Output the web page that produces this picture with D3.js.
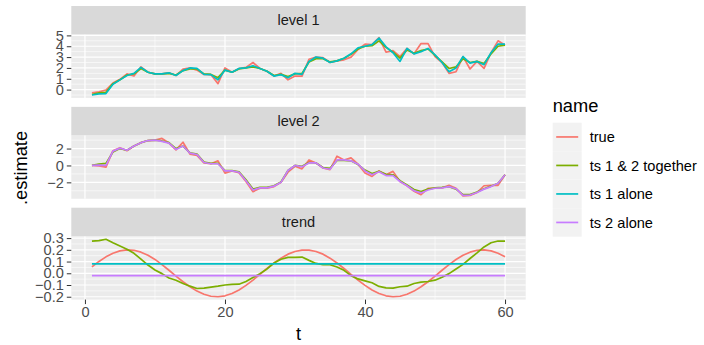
<!DOCTYPE html>
<html>
<head>
<meta charset="utf-8">
<script src="https://cdn.jsdelivr.net/npm/d3@7"></script>
<style>
  body { margin: 0; background: #fff; }
  text { font-family: "Liberation Sans", Arial, sans-serif; }
</style>
</head>
<body>
<div id="chart"></div>
<script>
// ---- data ----
var tValues = d3.range(1, 61);

var level1True = [-0.3, -0.2, -0.05, 0.6, 0.95, 1.45, 1.25, 2.1, 1.6, 1.45,
  1.45, 1.55, 1.3, 1.9, 2.0, 1.8, 1.4, 1.38, 0.55, 2.0,
  1.6, 1.95, 2.05, 2.5, 1.95, 1.7, 1.25, 1.5, 0.9, 1.25,
  1.25, 2.8, 3.0, 2.95, 2.5, 2.65, 2.75, 3.0, 3.7, 4.2,
  4.15, 4.8, 3.45, 3.6, 3.05, 3.8, 3.3, 4.25, 4.25, 3.05,
  2.5, 1.5, 1.65, 3.05, 1.9, 2.6, 1.95, 3.4, 4.5, 4.1];
var level1Together = [-0.45, -0.3, -0.25, 0.55, 0.9, 1.35, 1.45, 1.95, 1.6, 1.45,
  1.45, 1.5, 1.35, 1.75, 1.9, 1.9, 1.45, 1.4, 1.1, 1.8,
  1.6, 1.9, 2.0, 2.1, 1.95, 1.7, 1.3, 1.4, 1.2, 1.45,
  1.5, 2.55, 2.85, 2.85, 2.55, 2.65, 2.9, 3.25, 3.75, 4.0,
  4.05, 4.5, 3.9, 3.45, 2.9, 3.65, 3.35, 3.6, 3.75, 3.15,
  2.55, 1.95, 2.1, 2.85, 2.5, 2.6, 2.4, 3.3, 4.0, 4.1];
var level1Ts1 = [-0.5, -0.4, -0.37, 0.5, 0.9, 1.3, 1.5, 2.05, 1.6, 1.45,
  1.45, 1.55, 1.3, 1.75, 2.0, 1.95, 1.4, 1.38, 0.9, 1.8,
  1.6, 1.95, 2.0, 2.2, 1.95, 1.7, 1.25, 1.38, 1.1, 1.5,
  1.4, 2.6, 3.0, 2.9, 2.5, 2.65, 2.9, 3.3, 3.85, 4.0,
  4.15, 4.75, 3.95, 3.4, 2.6, 3.8, 3.3, 3.5, 3.8, 3.2,
  2.5, 1.65, 2.0, 3.05, 2.45, 2.6, 2.3, 3.4, 4.2, 4.2];

var level2True = [0, -0.05, -0.2, 1.75, 2.1, 1.75, 2.3, 2.7, 2.95, 3.0,
  3.2, 2.65, 1.85, 2.75, 1.35, 1.2, 0.3, 0.2, 0.55, -0.9,
  -0.65, -0.85, -1.9, -3.1, -2.7, -2.7, -2.5, -2.0, -0.8, -0.1,
  -0.4, 0.65, 0.3, -0.3, -0.5, 1.1, 0.65, 0.9, 0.15, -0.9,
  -1.3, -0.65, -1.1, -0.7, -1.9, -2.4, -3.05, -3.45, -2.7, -2.7,
  -2.65, -2.35, -2.7, -3.6, -3.55, -3.2, -2.4, -2.35, -2.35, -1.1];
var level2Together = [0, 0.15, 0.25, 1.6, 2.0, 1.8, 2.3, 2.7, 2.95, 3.0,
  2.9, 2.7, 2.0, 2.3, 1.5, 1.35, 0.4, 0.25, 0.25, -0.6,
  -0.6, -0.75, -1.7, -2.8, -2.6, -2.6, -2.4, -1.95, -0.6, 0,
  -0.1, 0.35, 0.3, -0.25, -0.35, 0.6, 0.6, 0.55, 0.1, -0.55,
  -0.95, -0.7, -1.05, -1.1, -1.8, -2.3, -2.85, -3.1, -2.8, -2.65,
  -2.6, -2.5, -2.8, -3.45, -3.45, -3.15, -2.75, -2.45, -2.1, -1.1];
var level2Ts2 = [0, 0.05, 0.0, 1.7, 2.05, 1.8, 2.3, 2.7, 2.95, 3.0,
  2.85, 2.65, 1.9, 2.3, 1.45, 1.3, 0.35, 0.2, 0.2, -0.65,
  -0.65, -0.8, -1.8, -2.9, -2.65, -2.65, -2.45, -2.0, -0.6, 0,
  -0.15, 0.3, 0.3, -0.3, -0.45, 0.65, 0.65, 0.55, 0.15, -0.65,
  -1.1, -0.75, -1.2, -1.2, -1.9, -2.4, -3.0, -3.25, -2.9, -2.7,
  -2.65, -2.5, -2.75, -3.55, -3.5, -3.2, -2.8, -2.5, -2.1, -1.1];

var trendTrue = [0.055, 0.101, 0.140, 0.171, 0.191, 0.200, 0.196, 0.180, 0.154, 0.118,
  0.074, 0.026, -0.024, -0.072, -0.115, -0.152, -0.179, -0.196, -0.200, -0.192,
  -0.172, -0.142, -0.103, -0.058, -0.009, 0.041, 0.088, 0.129, 0.163, 0.186,
  0.198, 0.198, 0.186, 0.163, 0.129, 0.088, 0.041, -0.009, -0.058, -0.103,
  -0.142, -0.172, -0.192, -0.200, -0.196, -0.179, -0.152, -0.115, -0.072, -0.024,
  0.026, 0.074, 0.117, 0.154, 0.180, 0.196, 0.200, 0.191, 0.171, 0.140];
var trendTogether = [0.275, 0.278, 0.29, 0.26, 0.233, 0.205, 0.17, 0.12, 0.07, 0.028,
  -0.003, -0.04, -0.06, -0.087, -0.11, -0.13, -0.126, -0.118, -0.11, -0.10,
  -0.095, -0.093, -0.07, -0.037, -0.003, 0.037, 0.087, 0.12, 0.135, 0.135,
  0.138, 0.11, 0.084, 0.073, 0.073, 0.053, 0.025, -0.02, -0.048, -0.065,
  -0.081, -0.112, -0.124, -0.126, -0.115, -0.11, -0.087, -0.076, -0.07, -0.059,
  -0.034, -0.003, 0.037, 0.076, 0.126, 0.174, 0.225, 0.26, 0.275, 0.275];
var trendTs1Value = 0.081;
var trendTs2Value = -0.02;

var level1Ticks = [0, 1, 2, 3, 4, 5];
var level2Ticks = [-2, 0, 2];
var trendTicks = [-0.2, -0.1, 0.0, 0.1, 0.2, 0.3];
var xTicks = [0, 20, 40, 60];

var seriesNames = ["true", "ts 1 & 2 together", "ts 1 alone", "ts 2 alone"];
var seriesColors = ["#F8766D", "#7CAE00", "#00BFC4", "#C77CFF"];

// ---- layout ----
var W = 704, H = 345;
var panelLeft = 71.3, panelRight = 525.7;
var stripH = 28.7, panelH = 63.2, step = 100.85, firstTop = 6;

var color = d3.scaleOrdinal().domain(seriesNames).range(seriesColors);

var x = d3.scaleLinear().domain([-1.95, 62.95]).range([panelLeft, panelRight]);

var panels = [
  { label: "level 1", ticks: level1Ticks, fmt: d3.format("d"),
    series: [["true", level1True], ["ts 1 & 2 together", level1Together], ["ts 1 alone", level1Ts1]] },
  { label: "level 2", ticks: level2Ticks, fmt: d3.format("d"),
    series: [["true", level2True], ["ts 1 & 2 together", level2Together], ["ts 2 alone", level2Ts2]] },
  { label: "trend", ticks: trendTicks, fmt: d3.format(".1f"),
    series: [["true", trendTrue], ["ts 1 & 2 together", trendTogether],
             ["ts 1 alone", tValues.map(function() { return trendTs1Value; })],
             ["ts 2 alone", tValues.map(function() { return trendTs2Value; })]] }
];

var svg = d3.select("#chart").append("svg")
  .attr("width", W).attr("height", H);

panels.forEach(function(p, i) {
  var top = firstTop + i * step;
  var pTop = top + stripH, pBottom = pTop + panelH;

  // free y scale with 5% expansion, like ggplot
  var all = [];
  p.series.forEach(function(s) { all = all.concat(s[1]); });
  var ext = d3.extent(all), pad = (ext[1] - ext[0]) * 0.05;
  var y = d3.scaleLinear().domain([ext[0] - pad, ext[1] + pad]).range([pBottom, pTop]);

  // strip
  svg.append("rect")
    .attr("x", panelLeft).attr("y", top)
    .attr("width", panelRight - panelLeft).attr("height", stripH)
    .attr("fill", "#D9D9D9");
  svg.append("text")
    .attr("x", (panelLeft + panelRight) / 2).attr("y", top + stripH / 2)
    .attr("dy", "0.35em").attr("text-anchor", "middle")
    .style("font-size", "14.6px").attr("fill", "#1A1A1A")
    .text(p.label);

  // panel background
  svg.append("rect")
    .attr("x", panelLeft).attr("y", pTop)
    .attr("width", panelRight - panelLeft).attr("height", panelH)
    .attr("fill", "#EBEBEB");

  var g = svg.append("g");

  // minor grid
  var stepY = p.ticks[1] - p.ticks[0];
  var minorY = [];
  for (var k = -1; k < p.ticks.length; k++) {
    var v = p.ticks[0] + (k + 0.5) * stepY;
    if (v > y.domain()[0] && v < y.domain()[1]) minorY.push(v);
  }
  g.selectAll(".minory").data(minorY).enter().append("line")
    .attr("x1", panelLeft).attr("x2", panelRight)
    .attr("y1", function(d) { return y(d); }).attr("y2", function(d) { return y(d); })
    .attr("stroke", "#fff").attr("stroke-width", 0.6);
  var minorX = [-10, 10, 30, 50, 70].filter(function(d) { return d > x.domain()[0] && d < x.domain()[1]; });
  g.selectAll(".minorx").data(minorX).enter().append("line")
    .attr("y1", pTop).attr("y2", pBottom)
    .attr("x1", function(d) { return x(d); }).attr("x2", function(d) { return x(d); })
    .attr("stroke", "#fff").attr("stroke-width", 0.6);

  // major grid
  g.selectAll(".majory").data(p.ticks).enter().append("line")
    .attr("x1", panelLeft).attr("x2", panelRight)
    .attr("y1", function(d) { return y(d); }).attr("y2", function(d) { return y(d); })
    .attr("stroke", "#fff").attr("stroke-width", 1.2);
  g.selectAll(".majorx").data(xTicks).enter().append("line")
    .attr("y1", pTop).attr("y2", pBottom)
    .attr("x1", function(d) { return x(d); }).attr("x2", function(d) { return x(d); })
    .attr("stroke", "#fff").attr("stroke-width", 1.2);

  // lines
  var line = d3.line()
    .x(function(d, j) { return x(tValues[j]); })
    .y(function(d) { return y(d); });
  p.series.forEach(function(s) {
    svg.append("path")
      .datum(s[1])
      .attr("d", line)
      .attr("fill", "none")
      .attr("stroke", color(s[0]))
      .attr("stroke-width", 1.7)
      .attr("stroke-linejoin", "round");
  });

  // y axis
  var yAxis = svg.append("g")
    .attr("transform", "translate(" + panelLeft + ",0)")
    .call(d3.axisLeft(y).tickValues(p.ticks).tickFormat(function(d) {
      return p.fmt(d).replace("-", "\u2212");
    }).tickSize(4.5).tickPadding(3));
  yAxis.select(".domain").remove();
  yAxis.selectAll(".tick line").attr("stroke", "#333333").attr("stroke-width", 1);
  yAxis.selectAll(".tick text")
    .attr("fill", "#4D4D4D").style("font-size", "14.6px")
    .style("font-family", "'Liberation Sans', Arial, sans-serif");

  // x axis only on last panel
  if (i === panels.length - 1) {
    var xAxis = svg.append("g")
      .attr("transform", "translate(0," + pBottom + ")")
      .call(d3.axisBottom(x).tickValues(xTicks).tickSize(4.5).tickPadding(3));
    xAxis.select(".domain").remove();
    xAxis.selectAll(".tick line").attr("stroke", "#333333").attr("stroke-width", 1);
    xAxis.selectAll(".tick text")
      .attr("fill", "#4D4D4D").style("font-size", "14.6px")
      .style("font-family", "'Liberation Sans', Arial, sans-serif");
  }
});

// axis titles
svg.append("text")
  .attr("transform", "translate(27,168) rotate(-90)")
  .attr("text-anchor", "middle")
  .style("font-size", "18.3px").attr("fill", "#000")
  .text(".estimate");
svg.append("text")
  .attr("x", (panelLeft + panelRight) / 2).attr("y", 340)
  .attr("text-anchor", "middle")
  .style("font-size", "18.3px").attr("fill", "#000")
  .text("t");

// legend
var legend = svg.append("g").attr("transform", "translate(552.7,0)");
legend.append("text")
  .attr("x", 0).attr("y", 112)
  .style("font-size", "18.3px").attr("fill", "#000")
  .text("name");
var keyH = 28.5, keyW = 29, keyTop = 122.7;
var items = legend.selectAll(".item").data(seriesNames).enter().append("g")
  .attr("transform", function(d, i) { return "translate(0," + (keyTop + i * keyH) + ")"; });
items.append("rect")
  .attr("width", keyW).attr("height", keyH)
  .attr("fill", "#F2F2F2");
items.append("line")
  .attr("x1", 3.5).attr("x2", keyW - 3.5)
  .attr("y1", keyH / 2).attr("y2", keyH / 2)
  .attr("stroke", function(d) { return color(d); })
  .attr("stroke-width", 1.7);
items.append("text")
  .attr("x", keyW + 8).attr("y", keyH / 2).attr("dy", "0.35em")
  .style("font-size", "14.6px").attr("fill", "#000")
  .text(function(d) { return d; });
</script>
</body>
</html>
